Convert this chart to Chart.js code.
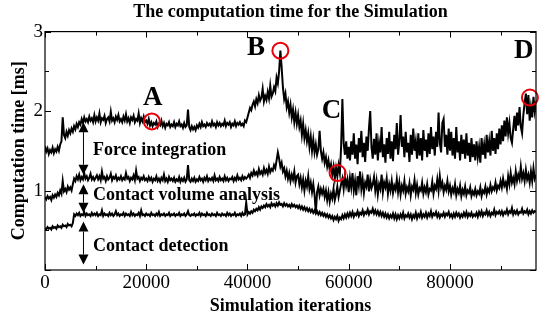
<!DOCTYPE html>
<html>
<head>
<meta charset="utf-8">
<script src="https://cdn.jsdelivr.net/npm/chart.js@4.4.1/dist/chart.umd.min.js"></script>
<style>
  html, body { margin: 0; padding: 0; background: #fff; }
  #wrap { width: 539px; height: 320px; }
</style>
</head>
<body>
<div id="wrap"><canvas id="chart" width="539" height="320"></canvas></div>
<script>
// sampling step of the iteration axis (one value every 250 iterations)
const iterStep = 250;

// top curve: total computation time [ms]
const totalTime = [
    1.56, 1.49, 1.53, 1.46, 1.51, 1.48, 1.54, 1.47, 1.52, 1.49, 1.55, 1.50, 1.58, 1.62, 1.92, 1.70, 1.66, 1.74, 1.69, 1.76,
    1.72, 1.78, 1.74, 1.81, 1.77, 1.84, 1.80, 1.86, 1.83, 1.90, 1.85, 1.92, 1.87, 1.90, 1.86, 1.93, 1.88, 1.91, 1.86, 1.95,
    1.87, 1.92, 1.88, 1.97, 1.86, 1.91, 1.89, 1.94, 1.85, 1.90, 1.92, 1.87, 1.99, 1.88, 1.91, 1.86, 1.93, 1.89, 1.95, 1.87,
    1.90, 1.86, 1.93, 1.88, 1.96, 1.87, 1.91, 1.85, 1.92, 1.89, 1.94, 1.86, 1.90, 1.88, 1.97, 1.85, 1.91, 1.87, 1.93, 1.86,
    1.88, 1.84, 1.90, 1.82, 1.86, 1.81, 1.85, 1.83, 1.87, 1.80, 1.84, 1.82, 1.88, 1.81, 1.85, 1.79, 1.84, 1.82, 1.86, 1.80,
    1.83, 1.81, 1.86, 1.80, 1.84, 1.82, 1.87, 1.81, 1.83, 1.79, 1.85, 1.80, 1.82, 2.02, 1.80, 1.76, 1.81, 1.77, 1.80, 1.76,
    1.82, 1.79, 1.84, 1.80, 1.86, 1.81, 1.83, 1.80, 1.85, 1.82, 1.84, 1.81, 1.87, 1.82, 1.84, 1.80, 1.86, 1.82, 1.85, 1.81,
    1.84, 1.82, 1.88, 1.81, 1.85, 1.83, 1.86, 1.80, 1.84, 1.82, 1.87, 1.81, 1.85, 1.83, 1.86, 1.82, 1.84, 1.81, 1.88, 1.86,
    1.92, 1.98, 2.04, 2.01, 2.08, 2.12, 2.06, 2.15, 2.10, 2.20, 2.13, 2.17, 2.28, 2.12, 2.19, 2.14, 2.24, 2.16, 2.32, 2.18,
    2.22, 2.30, 2.25, 2.42, 2.35, 2.50, 2.76, 2.55, 2.30, 2.15, 2.22, 2.05, 2.12, 1.98, 2.08, 1.92, 2.02, 1.86, 1.98, 1.84,
    1.95, 1.80, 1.88, 1.70, 1.84, 1.66, 1.76, 1.62, 1.72, 1.55, 1.68, 1.50, 1.64, 1.48, 1.58, 1.45, 1.52, 1.75, 1.50, 1.40,
    1.48, 1.35, 1.42, 1.30, 1.38, 1.26, 1.33, 1.20, 1.30, 1.15, 1.28, 1.18, 1.32, 1.22, 1.55, 2.15, 1.60, 1.45, 1.62, 1.40,
    1.55, 1.38, 1.62, 1.45, 1.72, 1.40, 1.58, 1.33, 1.66, 1.48, 1.75, 1.42, 1.60, 1.36, 1.68, 1.50, 1.78, 2.00, 1.55, 1.40,
    1.65, 1.45, 1.72, 1.38, 1.60, 1.48, 1.80, 1.42, 1.58, 1.35, 1.66, 1.46, 1.74, 1.40, 1.62, 1.37, 1.70, 1.52, 1.85, 1.45,
    1.62, 1.95, 1.55, 1.68, 1.42, 1.74, 1.48, 1.60, 1.36, 1.70, 1.45, 1.78, 1.50, 1.62, 1.40, 1.72, 1.44, 1.66, 1.38, 1.76,
    1.50, 1.64, 1.42, 1.72, 1.46, 1.80, 1.52, 1.68, 1.44, 1.74, 1.55, 1.98, 1.60, 1.48, 1.85, 1.90, 1.55, 1.70, 1.45, 1.78,
    1.50, 1.74, 1.44, 1.66, 1.40, 1.80, 1.48, 1.62, 1.38, 1.70, 1.46, 1.64, 1.40, 1.72, 1.44, 1.60, 1.36, 1.66, 1.42, 1.58,
    1.38, 1.62, 1.42, 1.55, 1.35, 1.66, 1.45, 1.58, 1.40, 1.70, 1.48, 1.62, 1.44, 1.75, 1.50, 1.66, 1.46, 1.72, 1.52, 1.78,
    1.58, 1.82, 1.62, 1.88, 1.68, 1.92, 1.72, 1.85, 1.66, 1.60, 1.78, 1.94, 1.75, 1.98, 1.82, 2.05, 1.80, 1.72, 1.95, 2.10,
    2.22, 1.96, 2.20, 1.88, 2.05, 1.92, 2.18, 2.00, 2.12
];

// middle curve: contact detection + contact volume analysis
const detectVolumeTime = [
    0.92, 0.89, 0.93, 0.90, 0.92, 0.88, 0.94, 0.91, 0.95, 0.92, 0.97, 0.94, 1.00, 0.96, 1.12, 0.99, 1.02, 0.98, 1.05, 1.01,
    1.04, 1.00, 1.08, 1.15, 1.12, 1.18, 1.14, 1.20, 1.13, 1.17, 1.14, 1.22, 1.15, 1.18, 1.13, 1.16, 1.21, 1.14, 1.17, 1.13,
    1.16, 1.19, 1.14, 1.18, 1.13, 1.24, 1.15, 1.17, 1.12, 1.18, 1.14, 1.16, 1.21, 1.13, 1.17, 1.15, 1.19, 1.13, 1.16, 1.14,
    1.18, 1.13, 1.16, 1.14, 1.22, 1.15, 1.17, 1.12, 1.16, 1.14, 1.19, 1.13, 1.25, 1.15, 1.17, 1.12, 1.16, 1.14, 1.18, 1.13,
    1.15, 1.12, 1.17, 1.13, 1.16, 1.11, 1.15, 1.13, 1.18, 1.12, 1.15, 1.11, 1.16, 1.13, 1.20, 1.12, 1.15, 1.11, 1.17, 1.13,
    1.15, 1.12, 1.16, 1.11, 1.14, 1.12, 1.17, 1.11, 1.15, 1.12, 1.16, 1.11, 1.14, 1.32, 1.13, 1.11, 1.15, 1.12, 1.16, 1.11,
    1.14, 1.12, 1.17, 1.13, 1.15, 1.11, 1.16, 1.13, 1.18, 1.12, 1.15, 1.13, 1.16, 1.12, 1.19, 1.13, 1.15, 1.12, 1.17, 1.13,
    1.15, 1.12, 1.18, 1.13, 1.16, 1.12, 1.15, 1.14, 1.17, 1.12, 1.16, 1.13, 1.19, 1.14, 1.16, 1.13, 1.18, 1.14, 1.17, 1.15,
    1.17, 1.20, 1.16, 1.22, 1.19, 1.25, 1.20, 1.23, 1.19, 1.27, 1.21, 1.24, 1.20, 1.28, 1.22, 1.26, 1.21, 1.30, 1.23, 1.27,
    1.25, 1.32, 1.28, 1.38, 1.48, 1.40, 1.30, 1.35, 1.24, 1.28, 1.18, 1.25, 1.15, 1.22, 1.12, 1.20, 1.14, 1.24, 1.10, 1.18,
    1.20, 1.08, 1.16, 1.04, 1.14, 1.00, 1.12, 1.05, 1.18, 1.02, 1.10, 0.98, 1.08, 0.95, 0.72, 0.98, 1.05, 0.94, 1.02, 0.96,
    1.02, 0.92, 1.00, 0.88, 0.98, 0.86, 0.96, 0.90, 1.02, 0.88, 0.95, 1.05, 0.92, 1.00, 1.08, 1.15, 1.02, 1.18, 1.06, 1.14,
    0.98, 1.16, 1.04, 1.22, 1.00, 1.12, 0.94, 1.18, 1.06, 1.24, 1.02, 1.14, 0.97, 1.10, 1.05, 1.20, 0.99, 1.13, 1.03, 1.08,
    1.17, 1.00, 1.12, 0.95, 1.08, 1.02, 1.20, 0.98, 1.10, 1.04, 1.15, 0.96, 1.08, 1.00, 1.12, 0.97, 1.06, 1.01, 1.14, 0.98,
    1.10, 0.95, 1.06, 1.00, 1.12, 0.96, 1.04, 0.99, 1.09, 0.94, 1.05, 1.01, 1.13, 0.97, 1.07, 0.95, 1.03, 1.00, 1.10, 0.96,
    1.04, 0.98, 1.08, 0.95, 1.02, 1.00, 1.11, 0.96, 1.06, 1.02, 1.14, 1.00, 1.18, 1.04, 1.10, 0.98, 1.06, 1.01, 1.12, 0.99,
    1.06, 0.95, 1.03, 0.98, 1.08, 0.94, 1.02, 0.97, 1.06, 0.93, 1.01, 0.96, 1.05, 0.94, 1.00, 0.97, 1.04, 0.93, 0.99, 0.95,
    1.02, 0.94, 0.99, 0.96, 1.04, 0.93, 1.00, 0.97, 1.05, 0.95, 1.02, 0.98, 1.07, 0.99, 1.04, 1.01, 1.10, 1.00, 1.06, 1.03,
    1.12, 1.04, 1.15, 1.06, 1.10, 1.02, 1.18, 1.08, 1.22, 1.10, 1.16, 1.08, 1.24, 1.12, 1.20, 1.14, 1.30, 1.15, 1.22, 1.12,
    1.26, 1.14, 1.20, 1.10, 1.24, 1.12, 1.28, 1.15, 1.20
];

// bottom curve: contact detection only
const detectTime = [
    0.53, 0.51, 0.54, 0.52, 0.53, 0.51, 0.55, 0.53, 0.54, 0.52, 0.56, 0.54, 0.55, 0.53, 0.57, 0.55, 0.56, 0.54, 0.58, 0.56,
    0.57, 0.55, 0.59, 0.70, 0.68, 0.71, 0.69, 0.72, 0.68, 0.70, 0.69, 0.73, 0.68, 0.71, 0.69, 0.70, 0.68, 0.72, 0.69, 0.71,
    0.69, 0.72, 0.68, 0.70, 0.69, 0.75, 0.68, 0.71, 0.69, 0.70, 0.68, 0.72, 0.69, 0.71, 0.68, 0.70, 0.74, 0.69, 0.71, 0.68,
    0.70, 0.69, 0.72, 0.68, 0.71, 0.69, 0.70, 0.68, 0.73, 0.69, 0.71, 0.68, 0.70, 0.69, 0.72, 0.68, 0.75, 0.69, 0.70, 0.68,
    0.71, 0.69, 0.70, 0.68, 0.72, 0.69, 0.70, 0.68, 0.71, 0.69, 0.73, 0.68, 0.70, 0.69, 0.71, 0.68, 0.70, 0.69, 0.72, 0.68,
    0.70, 0.69, 0.71, 0.68, 0.70, 0.69, 0.72, 0.68, 0.70, 0.69, 0.71, 0.68, 0.70, 0.74, 0.69, 0.68, 0.70, 0.69, 0.71, 0.68,
    0.70, 0.69, 0.72, 0.68, 0.71, 0.69, 0.70, 0.68, 0.72, 0.69, 0.70, 0.68, 0.71, 0.69, 0.70, 0.68, 0.72, 0.69, 0.70, 0.68,
    0.71, 0.69, 0.70, 0.68, 0.72, 0.69, 0.71, 0.68, 0.70, 0.69, 0.72, 0.68, 0.70, 0.69, 0.71, 0.68, 0.72, 0.69, 0.70, 0.85,
    0.70, 0.73, 0.71, 0.74, 0.72, 0.76, 0.74, 0.77, 0.75, 0.79, 0.76, 0.80, 0.78, 0.81, 0.79, 0.83, 0.80, 0.82, 0.79, 0.84,
    0.81, 0.83, 0.80, 0.84, 0.81, 0.85, 0.82, 0.83, 0.80, 0.84, 0.81, 0.83, 0.80, 0.82, 0.79, 0.83, 0.80, 0.82, 0.79, 0.81,
    0.78, 0.81, 0.77, 0.80, 0.76, 0.79, 0.75, 0.78, 0.74, 0.77, 0.73, 0.76, 0.72, 0.75, 0.71, 0.74, 0.70, 0.73, 0.69, 0.72,
    0.68, 0.71, 0.67, 0.70, 0.66, 0.69, 0.65, 0.68, 0.63, 0.67, 0.64, 0.68, 0.62, 0.66, 0.64, 0.69, 0.65, 0.70, 0.66, 0.71,
    0.67, 0.72, 0.68, 0.73, 0.67, 0.71, 0.69, 0.74, 0.68, 0.72, 0.70, 0.75, 0.69, 0.73, 0.71, 0.76, 0.70, 0.74, 0.72, 0.77,
    0.71, 0.75, 0.70, 0.74, 0.69, 0.73, 0.68, 0.72, 0.67, 0.71, 0.66, 0.70, 0.65, 0.69, 0.66, 0.71, 0.65, 0.70, 0.64, 0.69,
    0.65, 0.70, 0.66, 0.72, 0.65, 0.69, 0.67, 0.71, 0.66, 0.70, 0.64, 0.69, 0.66, 0.72, 0.65, 0.70, 0.67, 0.73, 0.66, 0.70,
    0.67, 0.72, 0.66, 0.71, 0.68, 0.74, 0.67, 0.71, 0.69, 0.73, 0.67, 0.71, 0.66, 0.70, 0.68, 0.72, 0.67, 0.71, 0.69, 0.73,
    0.67, 0.70, 0.66, 0.71, 0.67, 0.72, 0.68, 0.71, 0.66, 0.70, 0.67, 0.72, 0.68, 0.73, 0.67, 0.71, 0.68, 0.72, 0.67, 0.70,
    0.68, 0.72, 0.67, 0.73, 0.69, 0.74, 0.68, 0.72, 0.70, 0.75, 0.69, 0.73, 0.68, 0.72, 0.70, 0.76, 0.69, 0.73, 0.71, 0.74,
    0.70, 0.74, 0.69, 0.73, 0.71, 0.76, 0.70, 0.74, 0.72, 0.78, 0.70, 0.74, 0.71, 0.75, 0.70, 0.73, 0.72, 0.77, 0.71, 0.74,
    0.72, 0.76, 0.70, 0.74, 0.71, 0.75, 0.72, 0.74, 0.73
];

const xMax = 97000;
const xTickValues = [0, 20000, 40000, 60000, 80000];
const yTickValues = [0, 1, 2, 3];

// annotations, in data coordinates
const pointLabels = [
    { text: "A", x: 21300, y: 2.16 },
    { text: "B", x: 41700, y: 2.79 },
    { text: "C", x: 56600, y: 2.00 },
    { text: "D", x: 94600, y: 2.75 }
];
const circles = [
    { x: 21100, y: 1.87 },
    { x: 46500, y: 2.76 },
    { x: 57800, y: 1.22 },
    { x: 95800, y: 2.17 }
];
const arrows = [
    { x: 7600, y1: 1.86, y2: 1.20 },
    { x: 7600, y1: 1.08, y2: 0.72 },
    { x: 7600, y1: 0.61, y2: 0.07 }
];
const partLabels = [
    { text: "Force integration", x: 9500, y: 1.51 },
    { text: "Contact volume analysis", x: 9500, y: 0.94 },
    { text: "Contact detection", x: 9500, y: 0.30 }
];

const serif = "'Liberation Serif', 'DejaVu Serif', serif";

function toPoints(values) {
    return values.map((v, i) => ({ x: i * iterStep, y: v }));
}

const frameAndTicks = {
    id: "frameAndTicks",
    afterDraw(chart) {
        const { ctx, chartArea: a, scales } = chart;
        ctx.save();
        ctx.strokeStyle = "#000";
        ctx.lineWidth = 1.2;
        ctx.strokeRect(a.left, a.top, a.right - a.left, a.bottom - a.top);
        ctx.lineWidth = 1;
        ctx.beginPath();
        for (let v = 0; v <= xMax; v += 10000) {
            const px = Math.round(scales.x.getPixelForValue(v)) + 0.5;
            const len = xTickValues.includes(v) ? 6 : 4;
            ctx.moveTo(px, a.bottom); ctx.lineTo(px, a.bottom - len);
            ctx.moveTo(px, a.top); ctx.lineTo(px, a.top + len);
        }
        for (let v = 0; v <= 3; v += 0.5) {
            const py = Math.round(scales.y.getPixelForValue(v)) + 0.5;
            const len = yTickValues.includes(v) ? 6 : 4;
            ctx.moveTo(a.left, py); ctx.lineTo(a.left + len, py);
            ctx.moveTo(a.right, py); ctx.lineTo(a.right - len, py);
        }
        ctx.stroke();
        ctx.restore();
    }
};

const annotations = {
    id: "annotations",
    afterDatasetsDraw(chart) {
        const { ctx, scales } = chart;
        const X = v => scales.x.getPixelForValue(v);
        const Y = v => scales.y.getPixelForValue(v);
        ctx.save();

        // double arrows
        ctx.strokeStyle = "#000";
        ctx.fillStyle = "#000";
        ctx.lineWidth = 1;
        arrows.forEach(a => {
            const x = X(a.x), top = Y(a.y1), bot = Y(a.y2);
            const hl = 10, hw = 5;
            ctx.beginPath();
            ctx.moveTo(x, top + hl); ctx.lineTo(x, bot - hl);
            ctx.stroke();
            ctx.beginPath();
            ctx.moveTo(x, top); ctx.lineTo(x - hw, top + hl); ctx.lineTo(x + hw, top + hl);
            ctx.closePath(); ctx.fill();
            ctx.beginPath();
            ctx.moveTo(x, bot); ctx.lineTo(x - hw, bot - hl); ctx.lineTo(x + hw, bot - hl);
            ctx.closePath(); ctx.fill();
        });

        // part labels
        ctx.font = "bold 18px " + serif;
        ctx.textAlign = "left";
        ctx.textBaseline = "middle";
        partLabels.forEach(l => ctx.fillText(l.text, X(l.x), Y(l.y)));

        // point letters
        ctx.font = "bold 27px " + serif;
        ctx.textAlign = "center";
        pointLabels.forEach(l => ctx.fillText(l.text, X(l.x), Y(l.y)));

        // red circles
        ctx.strokeStyle = "#e8000b";
        ctx.lineWidth = 2;
        circles.forEach(c => {
            ctx.beginPath();
            ctx.arc(X(c.x), Y(c.y), 8, 0, Math.PI * 2);
            ctx.stroke();
        });
        ctx.restore();
    }
};

const lineStyle = {
    borderColor: "#000",
    borderWidth: 2,
    pointRadius: 0,
    tension: 0,
    fill: false
};

new Chart(document.getElementById("chart"), {
    type: "line",
    data: {
        datasets: [
            { label: "Total", data: toPoints(totalTime), ...lineStyle },
            { label: "Detection + volume", data: toPoints(detectVolumeTime), ...lineStyle },
            { label: "Detection", data: toPoints(detectTime), ...lineStyle }
        ]
    },
    options: {
        responsive: false,
        animation: false,
        layout: { padding: { top: 0, right: 3, left: 0, bottom: 0 } },
        plugins: {
            legend: { display: false },
            tooltip: { enabled: false },
            title: {
                display: true,
                fullSize: false,
                text: "The computation time for the Simulation",
                color: "#000",
                font: { family: serif, size: 18, weight: "bold" },
                padding: { top: 2, bottom: 8 }
            }
        },
        scales: {
            x: {
                type: "linear",
                min: 0,
                max: xMax,
                grid: { display: false, drawTicks: false },
                border: { display: false },
                afterBuildTicks: s => { s.ticks = xTickValues.map(v => ({ value: v })); },
                ticks: {
                    color: "#000",
                    padding: 2,
                    maxRotation: 0,
                    autoSkip: false,
                    font: { family: serif, size: 19 },
                    callback: v => String(v)
                },
                title: {
                    display: true,
                    text: "Simulation iterations",
                    color: "#000",
                    font: { family: serif, size: 18, weight: "bold" },
                    padding: { top: 0, bottom: 3 }
                },
                afterFit: s => { s.height = 50; }
            },
            y: {
                min: 0,
                max: 3,
                grid: { display: false, drawTicks: false },
                border: { display: false },
                afterBuildTicks: s => { s.ticks = yTickValues.map(v => ({ value: v })); },
                ticks: {
                    color: "#000",
                    padding: 2,
                    font: { family: serif, size: 19 },
                    callback: v => (v === 0 ? "" : String(v))
                },
                title: {
                    display: true,
                    text: "Computation time [ms]",
                    color: "#000",
                    font: { family: serif, size: 18, weight: "bold" },
                    padding: { top: 9, bottom: 0 }
                },
                afterFit: s => { s.width = 45; }
            }
        }
    },
    plugins: [frameAndTicks, annotations]
});
</script>
</body>
</html>
